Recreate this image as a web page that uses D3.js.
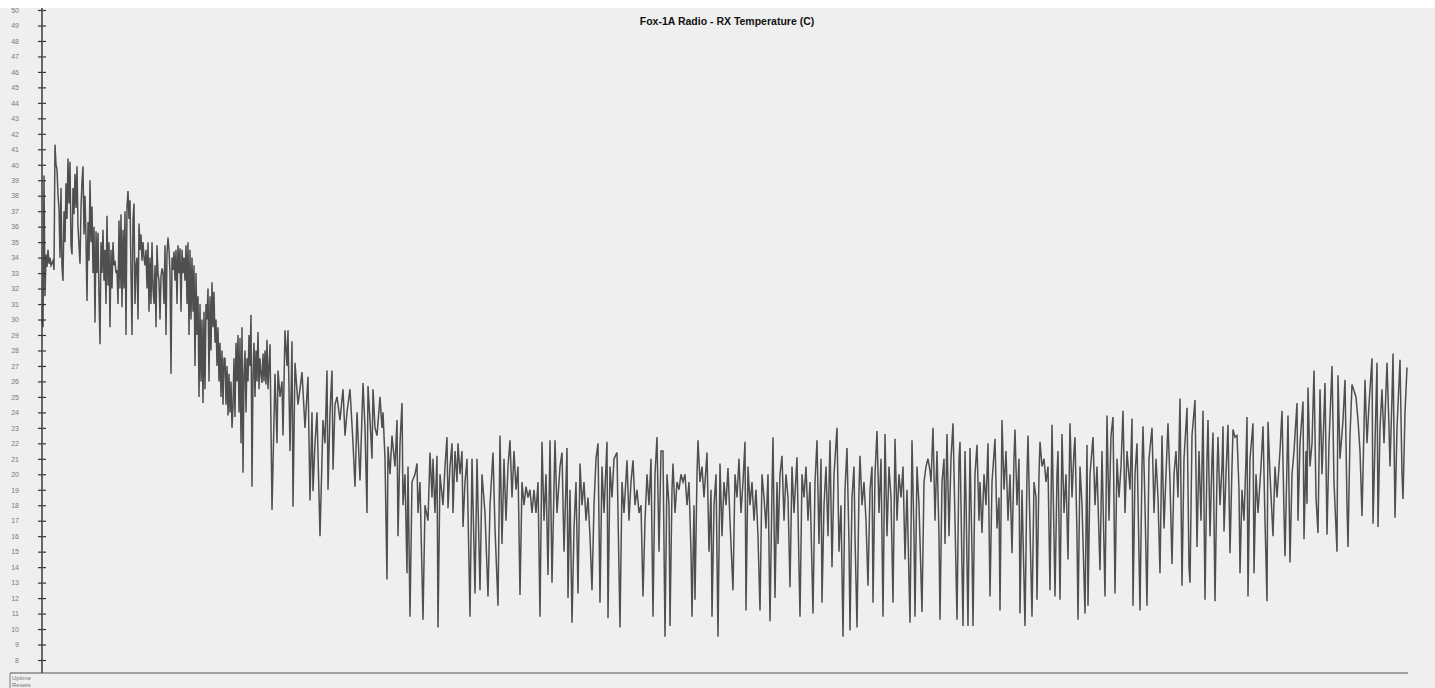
<!DOCTYPE html>
<html>
<head>
<meta charset="utf-8">
<script src="https://cdn.jsdelivr.net/npm/d3@7"></script>
<style>
  html, body { margin: 0; padding: 0; background: #fff; }
  svg { display: block; }
</style>
</head>
<body>
<script>
// Fox-1A RX temperature as [uptime, degC]
var title = 'Fox-1A Radio - RX Temperature (C)';
var tempTicks = d3.range(8, 51);
var footLabels = ['Uptime', 'Resets'];

var launchPass = [[42,30.0],[43,29.5],[44,39.3],[45,31.5],[46,34.2],[47,33.4],[48,34.5],[49,33.6],[50,34.0],[51,33.5],[53,33.8],[54,33.2],
  [55,41.3],[56,40.0],[57,39.7],[58,38.0],[59,37.2],[60,34.0],[61,38.5],[62,33.4],[63,32.5],[64,37.0],[65,35.0],[66,38.8],[67,36.5],[68,40.4],[69,37.5],[70,40.2],
  [71,34.8],[72,34.2],[73,38.5],[74,36.8],[75,39.4],[76,37.2],[77,39.9],[78,36.0],[80,33.6],[81,37.2],[82,38.9],[83,39.9],[84,35.5],[85,38.0],[86,35.2],[87,31.2],
  [88,36.3],[89,33.8],[90,39.0],[91,35.0],[92,37.3],[93,33.0],[94,36.0],[95,29.8],[96,35.7],[97,33.0],[98,35.6],[99,31.5],[100,28.4],[101,35.0],[102,33.0],[103,35.8],
  [104,32.5],[105,34.5],[106,31.0],[107,36.7],[108,32.2],[109,35.0],[110,29.5],[111,34.5],[112,32.0],[113,35.0],[114,33.5],[115,33.8],[116,33.0],[117,33.2],[118,31.0],
  [119,36.4],[120,32.0],[121,36.8],[122,30.8],[123,35.8],[124,32.0],[125,37.0],[126,29.0],[127,37.3],[128,38.3],[129,36.5],[130,37.7],[131,33.0],[132,29.0],[133,36.5],
  [134,37.5],[135,31.0],[136,33.5],[137,34.0],[138,30.0],[139,36.2],[140,34.5],[141,35.5],[142,33.8],[143,35.0],[144,34.0],[145,33.5],[146,34.5],[147,32.0],[148,35.0],
  [149,30.5],[150,34.0],[151,31.0],[152,35.0],[153,32.0],[154,31.0],[155,33.5],[156,29.5],[157,34.8],[158,33.0],[159,32.5],[160,30.0],[161,32.8],[162,33.3],[163,33.0],
  [164,31.0],[165,34.8],[166,29.0],[167,34.3],[168,35.3],[169,34.5],[170,33.0],[171,26.5],[172,34.0],[173,33.2],[174,34.4],[175,32.5],[176,34.5],[177,31.0],[178,34.8],
  [179,33.0],[180,34.6],[181,30.5],[182,34.5],[183,33.0],[184,34.0],[185,32.5],[186,34.8],[187,31.0],[188,35.0],[189,29.0],[190,34.5],[191,30.0],[192,34.0],[193,30.5],
  [194,33.5],[195,27.0],[196,33.0],[197,29.0],[198,31.5],[199,25.0],[200,31.0],[201,26.0],[202,30.0],[203,24.6],[204,30.5],[205,25.5],[206,31.0],[207,30.0],[208,32.0],
  [209,26.0],[210,31.5],[211,28.0],[212,32.4],[213,29.5],[214,31.8],[215,28.5],[216,30.0],[217,27.0],[218,29.5],[219,26.0],[220,28.5],[221,25.0],[222,28.0],[223,24.5],
  [224,27.5],[225,27.5],[226,24.5],[227,27.0],[228,23.8],[229,26.5],[230,24.0],[231,26.0],[232,23.0],[233,24.4],[234,27.5],[235,23.7],[236,28.5],[237,26.0],[238,29.0],
  [239,24.0],[240,28.8],[241,22.0],[242,29.5],[243,20.1],[244,26.5],[245,28.0],[246,24.0],[247,27.5],[248,26.0],[249,29.0],[250,27.0],[251,30.3],[252,19.2],[253,26.5],
  [254,28.5],[255,25.0],[256,28.0],[257,26.0],[258,29.2],[259,25.5],[260,27.5],[261,26.5],[262,25.9],[263,27.8],[264,26.0],[265,28.0],[266,25.8],[267,28.7],[268,25.5],
  [269,27.0],[270,28.4]];

var coolDown = [[272,17.7],[275,26.5],[277,22.0],[278,26.7],[280,25.0],[282,26.0],[283,22.5],[285,29.3],[287,27.0],[288,29.3],[290,21.5],[292,28.6],[293,17.9],
  [295,27.2],[298,24.5],[300,25.5],[302,26.6],[305,23.0],[308,26.3],[310,18.3],[312,24.0],[313,18.9],[315,22.0],[317,24.0],[320,16.0],[323,23.5],[325,22.0],[327,26.7],
  [328,19.0],[330,24.0],[332,26.7],[333,20.3],[335,24.5],[337,25.0],[340,23.5],[343,25.5],[345,22.5],[347,24.0],[350,25.5],[353,22.0],[355,19.2],[357,24.0],[360,19.6],
  [363,25.9],[365,23.0],[367,17.5],[368,25.7],[370,23.5],[372,21.0],[373,25.5],[375,23.0],[377,22.5],[380,25.0],[382,23.0],[383,24.0],[385,21.0],[387,13.2],[388,21.8],
  [390,20.0],[392,22.5],[395,20.5],[397,23.5],[398,16.0],[400,22.0],[402,24.6],[403,18.0],[405,20.0],[407,13.6],[408,20.5],[410,10.8],[412,19.5],[415,20.0],[417,20.7],
  [418,17.5],[420,19.5],[423,10.6],[425,18.0],[428,17.0],[430,21.4],[432,18.5],[433,21.0],[435,17.5],[437,21.2],[438,10.1],[440,20.0],[443,18.0],[445,20.5],[447,22.4],
  [448,17.8],[450,20.5],[452,22.0],[453,17.5],[455,21.5],[457,19.5],[458,22.0],[460,20.0],[462,21.5],[463,16.6],[465,19.5],[467,21.0],[470,10.8],[472,21.0],[475,12.3],
  [477,21.0],[480,12.5],[482,20.0],[485,17.5],[488,12.1],[490,18.0],[493,21.4],[495,16.5],[498,11.5]];

var lowPlateau = [[500,22.5],[502,15.5],[504,21.0],[506,17.0],[508,20.5],[510,22.2],[512,18.5],[514,21.5],[516,19.0],[518,20.5],[520,12.2],[522,19.5],[524,18.0],
  [526,19.2],[528,18.5],[530,19.0],[532,17.5],[534,19.0],[536,17.5],[538,19.5],[540,10.8],[542,22.1],[544,17.0],[546,20.0],[548,13.5],[550,22.2],[552,13.0],[555,22.2],
  [557,17.5],[560,20.5],[562,21.4],[564,15.0],[567,21.7],[568,12.0],[570,19.0],[572,10.4],[574,16.5],[576,19.5],[578,12.3],[580,20.7],[582,18.0],[584,19.5],[586,17.0],
  [588,18.5],[590,16.0],[592,12.5],[594,18.0],[596,21.0],[598,22.0],[600,11.7],[602,20.5],[604,17.5],[607,22.1],[608,10.7],[610,20.5],[612,18.5],[614,21.0],[617,21.4],
  [618,17.5],[620,10.1],[622,19.5],[624,17.5],[627,20.9],[629,17.0],[631,19.5],[633,20.9],[635,18.0],[637,19.0],[639,17.5],[641,18.0],[643,12.1],[645,17.0],[647,20.0],
  [649,18.0],[651,21.0],[653,10.8],[655,20.0],[657,22.4],[659,15.0],[661,21.5],[663,21.5],[665,9.5],[667,20.0],[669,18.0],[670,10.2],[672,19.0],[673,20.7],[675,17.5],
  [677,19.5],[679,19.0],[681,20.0],[683,19.5],[685,20.0],[687,18.0],[689,19.5],[691,15.0],[692,10.8],[694,18.0],[695,11.9],[697,20.0],[698,22.2],[700,19.5],[702,20.5],
  [704,18.5],[707,21.4],[709,15.0],[711,19.0],[712,10.8],[714,18.0],[716,20.0],[718,9.5],[720,20.7],[722,16.0],[724,19.5],[726,18.0],[728,20.4],[730,17.0]];

var midMission = [[733,12.5],[735,20.0],[737,18.5],[739,21.0],[741,17.5],[743,19.5],[745,22.1],[746,11.2],[748,20.5],[750,18.0],[752,19.5],[754,17.0],[756,19.0],
  [758,16.0],[760,11.2],[762,20.0],[764,18.5],[766,16.5],[768,20.0],[770,10.5],[772,19.0],[773,22.4],[775,12.0],[777,19.5],[778,15.5],[780,20.0],[782,21.2],[784,17.0],
  [786,20.0],[788,18.5],[790,12.7],[792,20.5],[794,17.5],[797,21.1],[799,14.0],[800,10.8],[802,20.0],[804,18.5],[806,20.5],[808,17.0],[810,19.5],[813,11.0],[815,19.5],
  [817,22.2],[819,15.5],[821,21.0],[822,11.7],[824,18.0],[826,20.5],[828,16.0],[830,22.2],[832,14.0],[834,20.0],[837,23.0],[839,15.0],[841,18.0],[843,9.5],[845,19.0],
  [847,21.7],[849,15.5],[850,9.9],[852,18.5],[854,20.5],[855,16.0],[857,10.1],[859,19.0],[860,21.2],[862,18.0],[864,19.5],[866,17.0],[868,12.8],[870,19.0],[872,20.5],
  [873,11.7],[875,20.0],[877,22.8],[879,17.5],[881,21.0],[883,10.8],[885,22.6],[887,16.0],[889,20.5],[891,18.5],[893,11.7],[895,22.3],[897,17.0],[899,20.0],[901,18.5],
  [903,20.5],[905,14.5],[907,19.0],[910,10.4],[912,22.2],[914,16.0],[915,10.8],[917,20.5],[919,18.0],[922,11.1],[924,19.5],[926,20.5],[928,21.0],[930,20.2],[931,19.5],
  [933,23.0],[935,17.0],[937,21.5],[939,16.0],[940,10.6],[942,19.5],[944,21.0],[945,15.5],[947,22.6],[949,16.0],[951,21.0],[953,23.3],[955,17.0],[957,10.6],[959,21.0]];

var lateMission = [[960,22.1],[962,14.0],[963,10.2],[965,21.5],[966,18.5],[968,10.2],[970,21.7],[972,15.0],[973,10.2],[975,20.0],[977,21.9],[979,17.0],[980,19.5],
  [982,16.2],[984,20.0],[986,18.0],[988,22.0],[990,12.1],[992,19.5],[995,22.3],[997,16.5],[999,18.5],[1000,11.2],[1002,23.5],[1004,19.0],[1006,21.5],[1008,17.0],
  [1010,20.0],[1012,14.9],[1014,21.0],[1015,22.9],[1017,18.0],[1019,21.0],[1020,11.0],[1022,19.0],[1025,10.2],[1027,20.0],[1028,22.5],[1030,16.5],[1032,10.8],[1034,19.5],
  [1036,18.5],[1037,11.9],[1039,20.0],[1040,22.1],[1042,20.5],[1044,21.0],[1046,19.5],[1048,20.5],[1050,12.5],[1052,23.2],[1054,16.0],[1055,12.1],[1057,20.0],[1058,21.5],
  [1060,11.9],[1062,22.6],[1064,17.5],[1066,20.0],[1068,14.5],[1070,23.3],[1072,18.5],[1074,21.5],[1075,22.4],[1077,16.0],[1078,10.6],[1080,20.5],[1082,18.0],[1085,11.0],
  [1087,21.9],[1088,11.5],[1090,20.0],[1093,22.4],[1095,18.0],[1097,20.5],[1100,13.8],[1102,21.5],[1105,12.1],[1107,23.8],[1109,17.0],[1111,22.5],[1113,23.7],[1115,12.3],
  [1117,21.0],[1119,18.5],[1121,20.5],[1123,24.1],[1125,17.5],[1127,21.5],[1130,19.0],[1132,23.6],[1133,11.5],[1135,20.0],[1137,22.0],[1140,11.2],[1142,20.5],[1143,23.1],
  [1145,18.0],[1147,11.5],[1149,21.0],[1152,23.0],[1154,17.5],[1156,21.0],[1158,18.5],[1160,13.6],[1162,22.5],[1164,16.5],[1166,20.0],[1168,23.3],[1170,19.5],[1172,14.2],
  [1174,20.0],[1176,21.5],[1178,18.5],[1180,24.9],[1182,12.8],[1184,21.0],[1187,24.3],[1189,14.0]];

var warmUp = [[1190,13.0],[1192,22.5],[1195,24.8],[1197,15.3],[1199,21.5],[1201,17.0],[1203,24.1],[1205,11.9],[1207,21.0],[1208,23.5],[1210,16.0],[1212,21.0],
  [1213,22.7],[1215,11.8],[1217,20.0],[1218,22.4],[1220,18.0],[1222,20.5],[1223,23.1],[1224,16.3],[1226,20.0],[1228,23.2],[1230,14.9],[1232,20.5],[1233,22.9],[1235,22.4],
  [1237,22.5],[1239,19.0],[1240,13.6],[1242,19.0],[1244,17.0],[1246,21.0],[1247,23.7],[1248,12.1],[1250,21.0],[1253,23.3],[1254,13.6],[1256,20.0],[1258,17.5],[1261,20.5],
  [1263,23.1],[1265,17.0],[1267,11.8],[1268,23.4],[1270,20.0],[1273,16.0],[1275,20.5],[1277,18.5],[1280,21.5],[1282,24.1],[1284,17.5],[1285,14.7],[1288,23.8],[1290,14.3],
  [1292,20.0],[1294,21.5],[1297,24.6],[1298,17.0],[1300,22.0],[1303,24.7],[1304,15.8],[1306,21.5],[1307,18.1],[1308,25.6],[1310,20.5],[1312,22.0],[1314,26.7],[1316,18.5],
  [1318,16.2],[1320,25.5],[1322,20.0],[1325,25.9],[1327,16.1],[1329,22.0],[1332,27.0],[1334,19.5],[1337,15.0],[1338,26.4],[1340,21.0],[1343,23.5],[1345,26.1],[1347,18.0],
  [1348,15.3],[1350,22.5],[1352,25.8],[1354,25.4],[1356,25.0],[1358,23.5],[1360,21.5],[1362,17.3],[1364,23.0],[1365,26.1],[1367,22.0],[1369,24.5],[1372,27.5],[1373,16.8],
  [1375,22.0],[1377,27.2],[1378,16.6],[1380,23.0],[1382,25.5],[1384,22.0],[1387,27.2],[1389,23.0],[1390,20.5],[1392,25.0],[1393,27.8],[1395,17.2],[1397,23.0],[1400,27.4],
  [1402,20.0],[1403,18.4],[1405,24.0],[1407,26.9]];

var rxTemp = [].concat(launchPass, coolDown, lowPlateau, midMission, lateMission, warmUp);

var width = 1435, height = 688;
var axisX = 42, plotRight = 1407, axisY = 673;
var fontFam = 'Liberation Sans, Arial, sans-serif';

var svg = d3.select('body').append('svg')
    .attr('width', width)
    .attr('height', height);

svg.append('rect').attr('width', width).attr('height', height).attr('fill', '#ffffff');
svg.append('rect').attr('y', 8).attr('width', width).attr('height', height - 8).attr('fill', '#efefef');

var x = d3.scaleLinear().domain([42, 1407]).range([axisX, plotRight]);
var y = d3.scaleLinear().domain([8, 50]).range([660, 10]);

// y axis, ticks cross the spine
var yAxis = svg.append('g')
    .attr('transform', 'translate(' + axisX + ',0)')
    .call(d3.axisLeft(y).tickValues(tempTicks).tickSize(4).tickPadding(19).tickFormat(d3.format('d')));
yAxis.select('.domain').remove();
yAxis.selectAll('.tick line').attr('x1', -4).attr('x2', 4).attr('stroke', '#333').attr('stroke-width', 1.2);
yAxis.selectAll('.tick text')
    .attr('fill', '#7a7a7a')
    .attr('font-family', fontFam)
    .attr('font-size', 7);

svg.append('line')
    .attr('x1', axisX).attr('x2', axisX)
    .attr('y1', 8).attr('y2', axisY)
    .attr('stroke', '#444').attr('stroke-width', 1.6);

svg.append('line')
    .attr('x1', 10).attr('x2', 1408)
    .attr('y1', axisY).attr('y2', axisY)
    .attr('stroke', '#555').attr('stroke-width', 1.2);
svg.append('line')
    .attr('x1', 10).attr('x2', 10)
    .attr('y1', axisY).attr('y2', height)
    .attr('stroke', '#777').attr('stroke-width', 1);

svg.selectAll('.foot')
    .data(footLabels)
    .enter().append('text')
    .attr('class', 'foot')
    .attr('x', 12)
    .attr('y', function(d, i) { return 680 + i * 6.5; })
    .attr('fill', '#777')
    .attr('font-family', fontFam)
    .attr('font-size', 6)
    .text(function(d) { return d; });

svg.append('text')
    .attr('x', 727)
    .attr('y', 25)
    .attr('text-anchor', 'middle')
    .attr('font-family', fontFam)
    .attr('font-weight', 'bold')
    .attr('font-size', 10.5)
    .attr('fill', '#111')
    .text(title);

var line = d3.line()
    .x(function(d) { return x(d[0]); })
    .y(function(d) { return y(d[1]); });

svg.append('path')
    .datum(rxTemp)
    .attr('d', line)
    .attr('fill', 'none')
    .attr('stroke', '#333')
    .attr('stroke-opacity', 0.85)
    .attr('stroke-width', 1.5)
    .attr('stroke-linejoin', 'miter');
</script>
</body>
</html>
